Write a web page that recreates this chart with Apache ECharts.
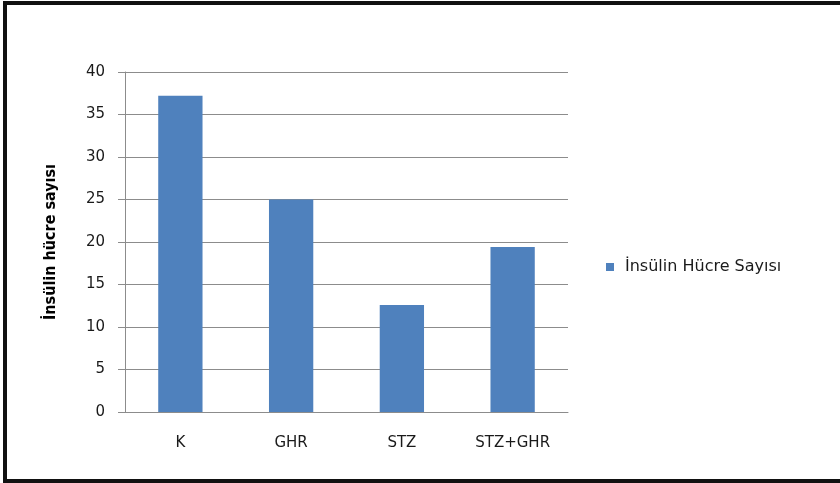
<!DOCTYPE html>
<html>
<head>
<meta charset="utf-8">
<script src="https://cdn.jsdelivr.net/npm/echarts@6/dist/echarts.min.js"></script>
<style>
  html, body { margin: 0; padding: 0; background: #fff; }
  .box {
    position: absolute; left: 3px; top: 1px; width: 845px; height: 482px; box-sizing: border-box;
    border-top: 4px solid #111; border-left: 4px solid #111; border-bottom: 4px solid #111;
  }
  #chart { position: absolute; left: 0; top: 0; width: 840px; height: 483px; }
</style>
</head>
<body>
<div class="box"></div>
<div id="chart"></div>
<script>
  const categories = ['K', 'GHR', 'STZ', 'STZ+GHR'];
  const cellCounts = [37.2, 25, 12.6, 19.4];
  const seriesName = 'İnsülin Hücre Sayısı';

  const myChart = echarts.init(document.getElementById('chart'));
  const option = {
    animation: false,
    grid: { left: 125, right: 272, top: 72, bottom: 71 },
    legend: {
      left: 601, top: 254,
      itemWidth: 8, itemHeight: 8,
      icon: 'rect',
      textStyle: { fontFamily: 'DejaVu Sans', fontSize: 16, color: '#1a1a1a', padding: [0, 0, 0, 6] },
      data: [seriesName]
    },
    xAxis: {
      type: 'category',
      data: categories,
      axisLine: { lineStyle: { color: '#8c8c8c', width: 1 } },
      axisTick: { show: false },
      axisLabel: { margin: 24, fontFamily: 'DejaVu Sans', fontSize: 15, color: '#1a1a1a' }
    },
    yAxis: {
      type: 'value',
      min: 0, max: 40, interval: 5,
      name: 'İnsülin hücre sayısı',
      nameLocation: 'middle',
      nameGap: 66,
      nameTextStyle: { fontFamily: '"DejaVu Sans Condensed", "Liberation Sans", sans-serif', fontWeight: 'bold', fontSize: 16, color: '#000' },
      axisLine: { show: true, lineStyle: { color: '#8c8c8c', width: 1 } },
      axisTick: { show: true, length: 7, lineStyle: { color: '#8c8c8c' } },
      axisLabel: { margin: 20, fontFamily: 'DejaVu Sans', fontSize: 15, color: '#1a1a1a' },
      splitLine: { lineStyle: { color: '#8c8c8c', width: 1 } }
    },
    series: [
      {
        name: seriesName,
        type: 'bar',
        data: cellCounts,
        barWidth: '40%',
        itemStyle: { color: '#4F81BD' }
      }
    ]
  };
  myChart.setOption(option);
</script>
</body>
</html>
